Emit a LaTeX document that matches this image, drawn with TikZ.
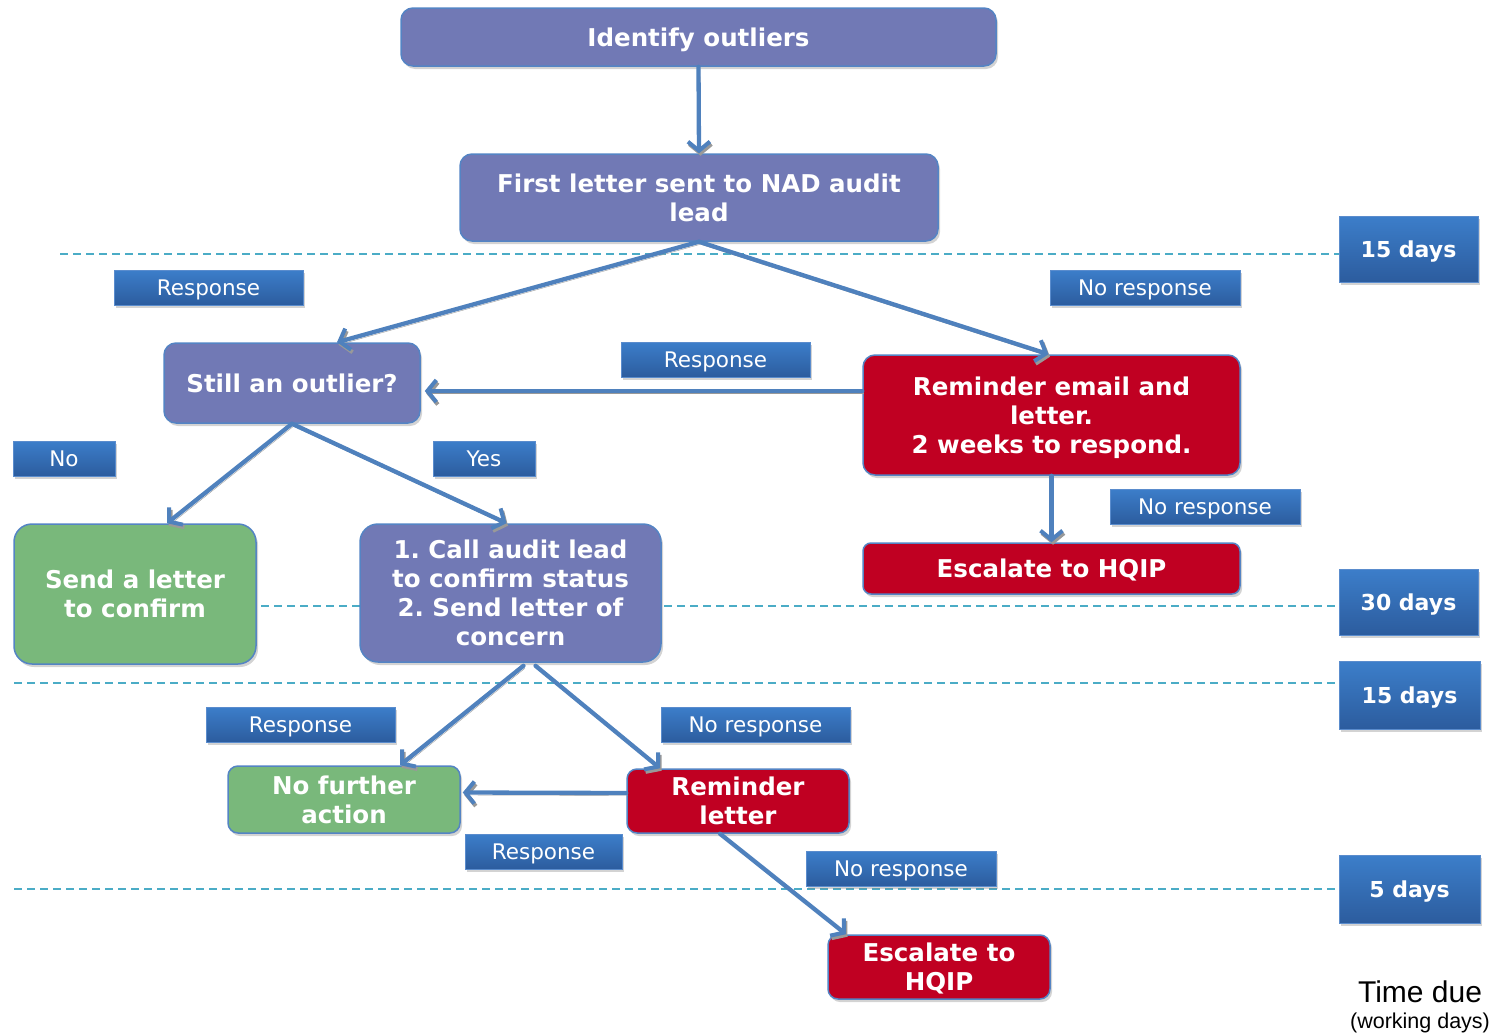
\documentclass[tikz,border=0pt]{standalone}
\usepackage{fontspec}
\setmainfont{DejaVu Sans}
\newfontfamily\arialfont{Liberation Sans}
\usetikzlibrary{arrows.meta,shadows,calc}
\frenchspacing
\definecolor{purp}{RGB}{113,121,181}
\definecolor{redc}{RGB}{192,0,34}
\definecolor{greenc}{RGB}{121,184,123}
\definecolor{nodeborder}{RGB}{84,132,196}
\definecolor{arrblue}{RGB}{79,129,189}
\definecolor{labtop}{RGB}{60,126,202}
\definecolor{labbot}{RGB}{44,92,158}
\definecolor{labborder}{RGB}{90,140,205}
\definecolor{dashc}{RGB}{75,172,198}
\tikzset{
  box/.style={draw=nodeborder, line width=1.5pt, rounded corners=12pt, text=white,
    font=\bfseries\fontsize{24.5}{29}\selectfont, align=center, inner sep=0pt, text depth=0pt,
    drop shadow={shadow xshift=2pt, shadow yshift=-3pt, opacity=0.35}},
  pbox/.style={box, fill=purp},
  rbox/.style={box, fill=redc},
  gbox/.style={box, fill=greenc},
  lab/.style={draw=labborder, line width=1pt, top color=labtop, bottom color=labbot,
    text=white, font=\fontsize{21.5}{25}\selectfont, minimum height=35pt, inner sep=0pt, text depth=0pt,
    drop shadow={shadow xshift=2pt, shadow yshift=-3pt, opacity=0.35}},
  dayslab/.style={lab, font=\bfseries\fontsize{22}{26}\selectfont, minimum width=139pt, minimum height=66pt},
  arr/.style={draw=arrblue, line width=4.3pt, line cap=round,
    -{Straight Barb[length=9pt,width=22pt,line width=4pt]},
    preaction={draw=black!40, transform canvas={xshift=1.5pt,yshift=-2.5pt}}},
  dashline/.style={draw=dashc, line width=1.3pt, dash pattern=on 8pt off 5pt},
}
\begin{document}
\begin{tikzpicture}[x=1pt,y=-1pt]
\useasboundingbox (0,0) rectangle (1497,1036);
% day labels
\node[dayslab] (d1) at (1408.5,249) {15 days};
\node[dayslab] (d2) at (1408.5,602) {30 days};
\node[dayslab, minimum width=141pt, minimum height=68pt] (d3) at (1409.5,695) {15 days};
\node[dayslab, minimum width=141pt, minimum height=68pt] (d4) at (1409.5,889) {5 days};
% dashed time lines
\coordinate (l1) at (60,254);
\coordinate (l2) at (14,606);
\coordinate (l3) at (14,683);
\coordinate (l4) at (14,889);
\draw[dashline] (l1) -- (l1 -| d1.west);
\draw[dashline] (l2) -- (l2 -| d2.west);
\draw[dashline] (l3) -- (l3 -| d3.west);
\draw[dashline] (l4) -- (l4 -| d4.west);
% main nodes
\node[pbox, minimum width=595pt, minimum height=58pt] (identify) at (698.5,37) {Identify outliers};
\node[pbox, minimum width=478pt, minimum height=87pt] (first) at (699,197.5) {First letter sent to NAD audit\\lead};
\node[pbox, minimum width=256pt, minimum height=80pt] (still) at (292,383) {Still an outlier?};
\node[rbox, minimum width=377pt, minimum height=120pt] (remind) at (1051.5,415) {Reminder email and\\letter.\\2 weeks to respond.};
\node[rbox, minimum width=377pt, minimum height=51pt, rounded corners=8pt] (esc1) at (1051.5,568.5) {Escalate to HQIP};
\node[gbox, minimum width=242pt, minimum height=140pt, rounded corners=18pt] (send) at (135,594) {Send a letter\\to confirm};
\node[pbox, minimum width=301pt, minimum height=138pt, rounded corners=18pt] (call) at (510.5,593) {1. Call audit lead\\to confirm status\\2. Send letter of\\concern};
\node[gbox, minimum width=232pt, minimum height=67pt, rounded corners=10pt] (nofurther) at (344,799.5) {No further\\action};
\node[rbox, minimum width=222pt, minimum height=64pt, rounded corners=10pt] (remletter) at (738,801) {Reminder\\letter};
\node[rbox, minimum width=222pt, minimum height=64pt, rounded corners=10pt] (esc2) at (939,967) {Escalate to\\HQIP};
% connector labels
\node[lab, minimum width=189pt] (lresp1) at (208.5,287.5) {Response};
\node[lab, minimum width=190pt] (lnoresp1) at (1145,287.5) {No response};
\node[lab, minimum width=189pt] (lresp2) at (715.5,359.5) {Response};
\node[lab, minimum width=102pt] (lno) at (64,458.5) {No};
\node[lab, minimum width=102pt] (lyes) at (484,458.5) {Yes};
\node[lab, minimum width=190pt] (lnoresp2) at (1205,506.5) {No response};
\node[lab, minimum width=189pt] (lresp3) at (300.5,724.5) {Response};
\node[lab, minimum width=189pt] (lnoresp3) at (755.5,724.5) {No response};
\node[lab, minimum width=157pt] (lresp4) at (543.5,851.5) {Response};
\node[lab, minimum width=190pt] (lnoresp4) at (901,868.5) {No response};
% connectors
\draw[arr] (identify.south) -- (first.north);
\draw[arr] (first.south) -- ([xshift=45pt]still.north);
\draw[arr] (first.south) -- ([xshift=-3pt]remind.north);
\draw[arr] ([yshift=24pt]remind.west) -- ([xshift=4pt,yshift=-8pt]still.east);
\draw[arr] (remind.south) -- (esc1.north);
\draw[arr] (still.south) -- ([xshift=32pt]send.north);
\draw[arr] (still.south) -- ([xshift=-4pt]call.north);
\draw[arr] ([xshift=13pt,yshift=-3pt]call.south) -- ([xshift=56pt]nofurther.north);
\draw[arr] ([xshift=25pt,yshift=-3pt]call.south) -- ([xshift=-78pt]remletter.north);
\draw[arr] ([yshift=8pt]remletter.west) -- ([xshift=2pt,yshift=7pt]nofurther.east);
\draw[arr] ([xshift=-18pt]remletter.south) -- ([xshift=-93pt]esc2.north);
% time due
\node[font=\arialfont\fontsize{30}{34}\selectfont, inner sep=0pt] (tdue) at (1420,992) {Time due};
\node[font=\arialfont\fontsize{21.5}{25}\selectfont, inner sep=0pt] (twd) at (1420,1023) {(working days)};
\end{tikzpicture}
\end{document}
